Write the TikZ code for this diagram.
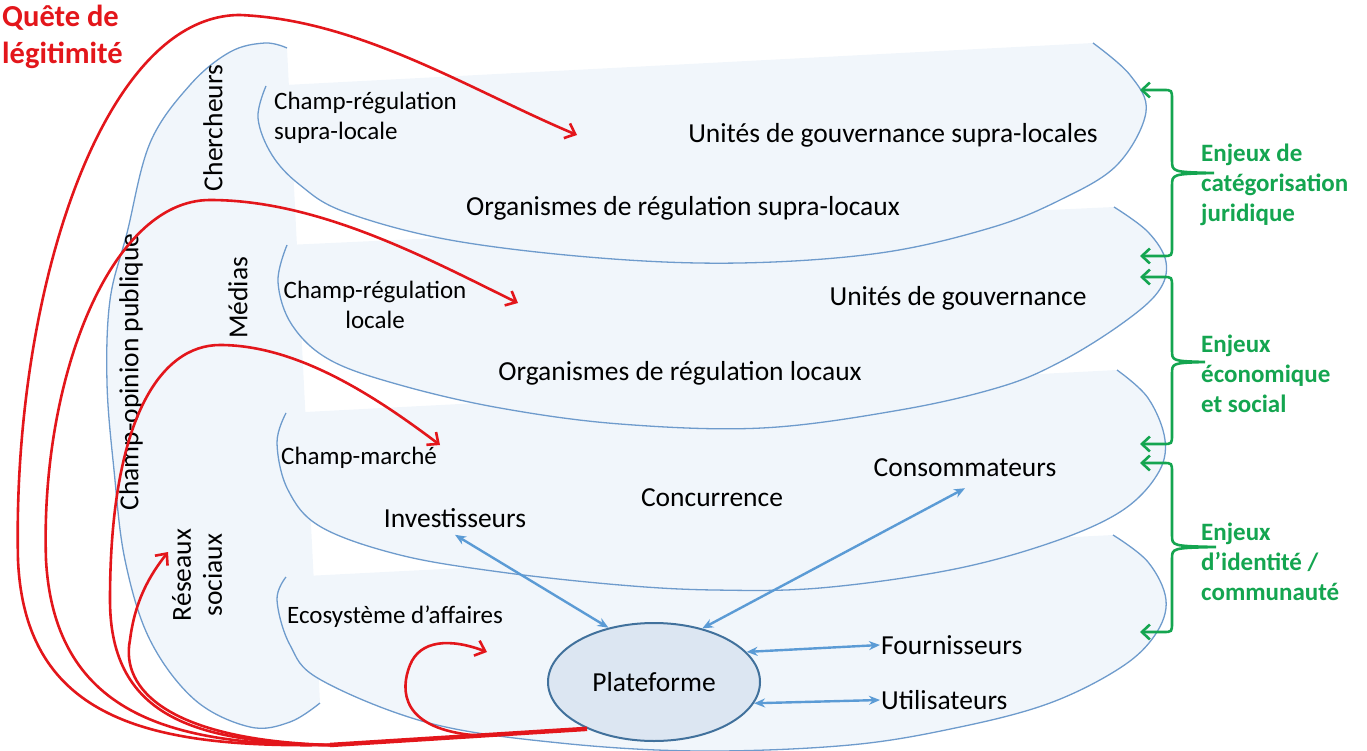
\documentclass[tikz,border=0pt]{standalone}
\usepackage{fontspec}
\setmainfont{Carlito}
\usetikzlibrary{arrows.meta,shapes.geometric,calc}
\definecolor{QuestRed}{HTML}{E3161B}
\definecolor{IssueGreen}{HTML}{14A550}
\definecolor{FieldLine}{HTML}{6E9BCC}
\definecolor{FieldFill}{HTML}{F1F6FB}
\definecolor{LinkBlue}{HTML}{5B9BD5}
\definecolor{PlatFill}{HTML}{DCE6F2}
\definecolor{PlatLine}{HTML}{41719C}
\newcommand{\bigfont}{\fontsize{27.5}{31}\selectfont}
\newcommand{\smallfont}{\fontsize{25}{30}\selectfont}

\begin{document}
\begin{tikzpicture}[x=1pt,y=-1pt, every node/.style={font=\bigfont,inner sep=1pt},
    field/.style={draw=FieldLine,line width=1.3pt,fill=FieldFill},
    quest/.style={QuestRed,line width=2.6pt,-{Straight Barb[length=9pt,width=16pt]}},
    link/.style={LinkBlue,line width=2.4pt,{Stealth[length=11pt,width=9pt]}-{Stealth[length=11pt,width=9pt]}},
    issue/.style={IssueGreen,line width=2.6pt,{Straight Barb[length=8pt,width=15pt]}-{Straight Barb[length=8pt,width=15pt]}},
    issuetext/.style={IssueGreen,font=\fontsize{25}{30}\selectfont\bfseries,align=left,anchor=west}]
  \useasboundingbox (0,0) rectangle (1367,751);

  % champ opinion publique
  \draw[field] plot[smooth,tension=.6] coordinates {(287,48) (265,43) (230,52) (190,85) (150,143) (127,233) (110,300) (107,383) (114,470) (125,560) (150,640) (195,700) (250,727) (290,722) (320,703)};

  % champs, du bas vers le haut
  \draw[field] plot[smooth,tension=.6] coordinates {(286,577) (277,600) (290,645) (321,680) (429,723) (560,743) (700,751) (850,745) (960,727) (1050,703) (1120,668) (1155,635) (1166,600) (1148,562) (1113,535)};
  \draw[field] plot[smooth,tension=.6] coordinates {(286,413) (277,443) (288,490) (321,527) (400,555) (500,572) (620,585) (714,590) (820,588) (950,570) (1050,543) (1120,512) (1157,475) (1165,440) (1148,398) (1117,370)};
  \draw[field] plot[smooth,tension=.6] coordinates {(287,245) (278,282) (292,325) (330,360) (400,385) (500,408) (620,424) (762,428) (900,410) (1000,387) (1060,362) (1120,325) (1158,292) (1166,262) (1148,232) (1114,207)};
  \draw[field] plot[smooth,tension=.6] coordinates {(266,86) (258,118) (272,155) (300,185) (345,212) (450,240) (600,258) (740,263) (880,253) (990,228) (1060,200) (1117,165) (1146,112) (1130,75) (1093,43)};

  % textes
  \node[QuestRed,font=\fontsize{30.5}{37}\selectfont\bfseries,align=left,anchor=north west] (quest) at (1,4) {Quête de\\légitimité};
  \node[rotate=90] (research) at (213,128) {Chercheurs};
  \node[rotate=90] (opinion) at (131,372) {Champ-opinion publique};
  \node[rotate=90] (media) at (238,298) {Médias};
  \node[rotate=90,align=center] (social) at (197,575) {Réseaux\\sociaux};

  \node[font=\smallfont,align=left,anchor=west] (supra) at (273,118) {Champ-régulation\\supra-locale};
  \node (unitsSupra) at (893,135) {Unités de gouvernance supra-locales};
  \node (orgSupra) at (683,208) {Organismes de régulation supra-locaux};

  \node[font=\smallfont,align=center] (local) at (375,305) {Champ-régulation\\locale};
  \node (unitsLocal) at (958,298) {Unités de gouvernance};
  \node (orgLocal) at (680,373) {Organismes de régulation locaux};

  \node[font=\smallfont,anchor=west] (market) at (280,458) {Champ-marché};
  \node (invest) at (455,518) {Investisseurs};
  \node (compet) at (712,498) {Concurrence};
  \node (conso) at (965,468) {Consommateurs};

  \node[font=\smallfont,anchor=west] (ecosys) at (286,617) {Ecosystème d’affaires};
  \node[ellipse,draw=PlatLine,line width=2pt,fill=PlatFill,minimum width=212pt,minimum height=118pt] (plat) at (654,682) {Plateforme};
  \node[anchor=west] (fourn) at (880,645) {Fournisseurs};
  \node[anchor=west] (utili) at (880,700) {Utilisateurs};

  \node[issuetext] (issueLegal) at (1200,185) {Enjeux de\\catégorisation\\juridique};
  \node[issuetext] (issueEco) at (1200,374) {Enjeux\\économique\\et social};
  \node[issuetext] (issueId) at (1200,562) {Enjeux\\d’identité /\\communauté};

  % liens de la plateforme
  \draw[link] ([yshift=-6pt]invest.south) -- (plat.130);
  \draw[link] ([yshift=-10pt]conso.south) -- (plat.48);
  \draw[link] (plat.18) -- (fourn.west);
  \draw[link] (plat.-12) -- (utili.west);

  % quete de legitimite
  \coordinate (root) at (330,745);
  \coordinate (tipSupra) at (577,135);
  \coordinate (tipLocal) at (518,303);
  \coordinate (tipMarket) at (440,445);
  \coordinate (tipSocial) at (168,552);
  \coordinate (tipEco) at (487,652);
  \draw[QuestRed,line width=4.5pt] (plat.215) -- (root);
  \draw[quest] (root) .. controls (150,748) and (25,720) .. (18,560)
    .. controls (12,300) and (100,15) .. (240,15)
    .. controls (360,20) and (470,90) .. (tipSupra);
  \draw[quest] (root) .. controls (180,745) and (55,720) .. (46,560)
    .. controls (40,380) and (110,200) .. (210,200)
    .. controls (320,200) and (430,260) .. (tipLocal);
  \draw[quest] (root) .. controls (200,742) and (110,720) .. (110,600)
    .. controls (110,420) and (160,345) .. (220,345)
    .. controls (300,345) and (380,400) .. (tipMarket);
  \draw[quest] (root) .. controls (170,740) and (120,690) .. (130,640)
    .. controls (135,600) and (150,575) .. (tipSocial);
  \draw[quest] ($(plat.215)!0.42!(root)$) .. controls (400,730) and (400,690) .. (410,665)
    .. controls (420,640) and (450,638) .. (tipEco);

  % enjeux
  \draw[issue] (1140,90) -- (1163,90) .. controls (1172,90) .. (1172,100) -- (1172,160)
    .. controls (1172,172) .. (1214,173) .. controls (1172,174) .. (1172,186)
    -- (1172,246) .. controls (1172,256) .. (1163,256) -- (1140,256);
  \draw[issue] (1140,277) -- (1163,277) .. controls (1172,277) .. (1172,287) -- (1172,350)
    .. controls (1172,361) .. (1205,362) .. controls (1172,363) .. (1172,374)
    -- (1172,434) .. controls (1172,444) .. (1163,444) -- (1140,444);
  \draw[issue] (1140,463) -- (1163,463) .. controls (1172,463) .. (1172,473) -- (1172,535)
    .. controls (1172,546) .. (1216,547) .. controls (1172,548) .. (1172,559)
    -- (1172,622) .. controls (1172,632) .. (1163,632) -- (1140,632);
\end{tikzpicture}
\end{document}
